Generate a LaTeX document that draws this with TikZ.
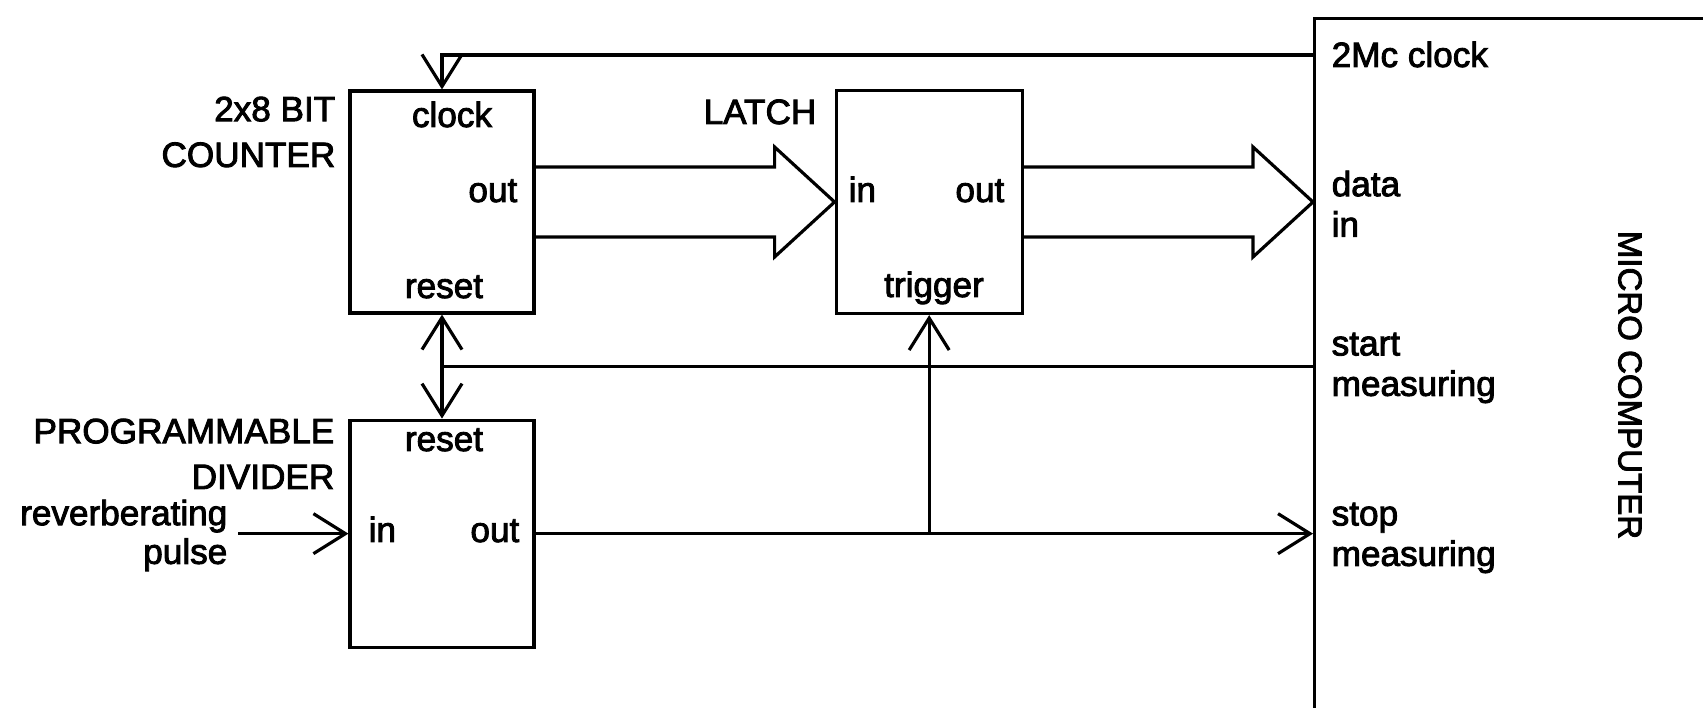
\documentclass[tikz,border=0pt]{standalone}
\usepackage{fontspec}
\setmainfont{Liberation Sans}[FakeBold=2.5]
\usepackage{tikz}
\usetikzlibrary{arrows.meta, positioning, calc}

% hollow bus arrow from one block to the next
\newcommand{\busarrow}[2]{%
  \draw[wire] ([yshift=3.5mm]#1) -- ([xshift=-6mm,yshift=3.5mm]#2)
      -- ([xshift=-6mm,yshift=5.5mm]#2) -- (#2)
      -- ([xshift=-6mm,yshift=-5.5mm]#2) -- ([xshift=-6mm,yshift=-3.5mm]#2)
      -- ([yshift=-3.5mm]#1);}

\begin{document}
\begin{tikzpicture}[
            block/.style  ={rectangle, draw, line width=0.9pt, minimum width=1.84cm,
                            minimum height=2.22cm, inner sep=0pt},
            lbl/.style    ={inner sep=0pt, font=\fontsize{10}{11.5}\selectfont},
            namelbl/.style={inner sep=0pt, align=right, font=\fontsize{10}{13}\selectfont},
            wire/.style   ={line width=0.9pt, line join=miter},
            arr/.style    ={wire, -{Straight Barb[length=3.2mm, width=4mm]}}
        ]
            \useasboundingbox (0,0) rectangle (17.03,-7.08);
            \clip (0,0) rectangle (17.03,-7.08);

            \node[block] (counter) at (4.42,-2.02) {};
            \node[block, right=2.99cm of counter, minimum width=1.86cm, minimum height=2.23cm] (latch) {};
            \node[block, below=1.04cm of counter, minimum height=2.27cm] (divider) {};
            \node[block, anchor=north west, minimum width=4.6cm, minimum height=7.6cm] (micro) at (13.13,-0.17) {};

            % names of the blocks
            \node[namelbl, anchor=north east] (cntname) at (3.36,-0.96) {2x8 BIT\\COUNTER};
            \node[lbl, anchor=base east] (latchname) at (8.17,-1.24) {LATCH};
            \node[namelbl, anchor=north east] (divname) at (3.35,-4.18) {PROGRAMMABLE\\DIVIDER};
            \node[lbl, align=right, anchor=north east, font=\fontsize{10}{11}\selectfont] (pulselbl) at (2.28,-4.99) {reverberating\\pulse};
            \node[lbl, rotate=-90, font=\fontsize{9.4}{11}\selectfont] (microname) at (16.30,-3.85) {MICRO COMPUTER};

            % pins
            \node[lbl, anchor=base] (cntclock) at (4.52,-1.27) {clock};
            \node[lbl, anchor=base east] (cntout) at (5.18,-2.02) {out};
            \node[lbl, anchor=base] (cntreset) at (4.44,-2.98) {reset};
            \node[lbl, anchor=base west] (latin) at (8.48,-2.02) {in};
            \node[lbl, anchor=base east] (latout) at (10.05,-2.02) {out};
            \node[lbl, anchor=base] (lattrig) at (9.34,-2.97) {trigger};
            \node[lbl, anchor=base] (divreset) at (4.44,-4.51) {reset};
            \node[lbl, anchor=base west] (divin) at (3.68,-5.42) {in};
            \node[lbl, anchor=base east] (divout) at (5.20,-5.42) {out};
            \node[lbl, anchor=base west] (mcclock) at (13.31,-0.67) {2Mc clock};
            \node[lbl, align=left, anchor=north west] (mcdata) at (13.31,-1.70) {data\\in};
            \node[lbl, align=left, anchor=north west] (mcstart) at (13.31,-3.32) {start\\measuring};
            \node[lbl, align=left, anchor=north west] (mcstop) at (13.31,-5.02) {stop\\measuring};

            \coordinate (clk) at ([yshift=-0.38cm]micro.north west);
            \coordinate (rstjoin) at ($(counter.south)!0.5!(divider.north)$);
            \coordinate (trig) at (latch.south |- divider.east);
            \coordinate (pulsein) at ([xshift=-1.1cm]divider.west);

            \draw[arr] (clk) -| (counter.north);
            \busarrow{counter.east}{latch.west}
            \busarrow{latch.east}{micro.west |- latch.east}
            \draw[wire, {Straight Barb[length=3.2mm, width=4mm]}-{Straight Barb[length=3.2mm, width=4mm]}]
                  (counter.south) -- (divider.north);
            \draw[wire] (micro.west |- rstjoin) -- (rstjoin);
            \draw[arr] (divider.east) -- (micro.west |- divider.east);
            \draw[arr] (trig) -- (latch.south);
            \draw[arr] (pulsein) -- (divider.west);

        \end{tikzpicture}
\end{document}
